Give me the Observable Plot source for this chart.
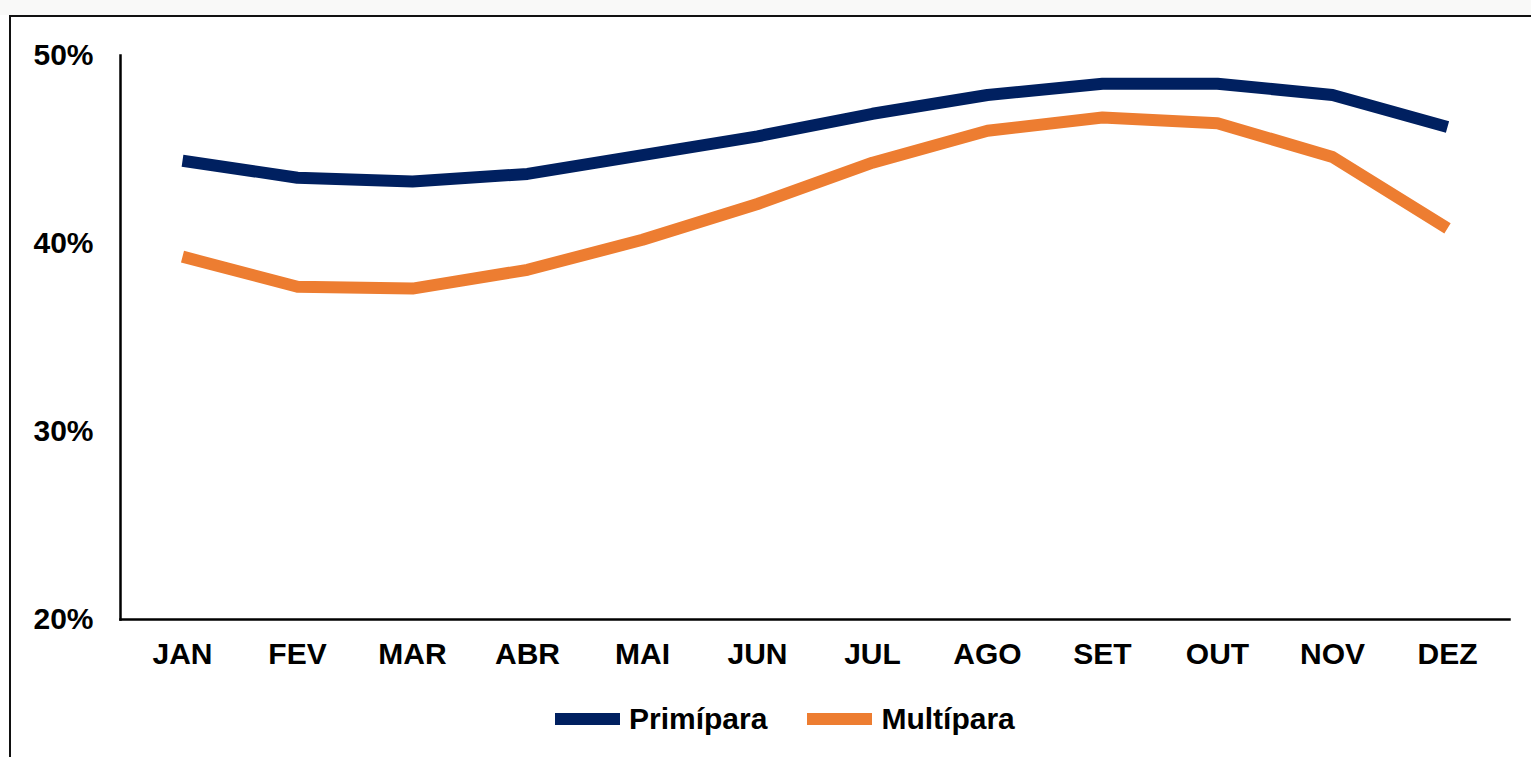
<!DOCTYPE html>
<html>
<head>
<meta charset="utf-8">
<script src="https://cdn.jsdelivr.net/npm/d3@7"></script>
<script src="https://cdn.jsdelivr.net/npm/@observablehq/plot@0.6"></script>
<style>
  html, body { margin: 0; padding: 0; background: #fff; }
  body { width: 1531px; height: 757px; position: relative; overflow: hidden; font-family: "Liberation Sans", Arial, sans-serif; }
  #topband { position: absolute; left: 0; top: 0; width: 1531px; height: 15px; background: #f9f9f8; }
  #frame { position: absolute; left: 9px; top: 15px; width: 1600px; height: 800px; border: 2px solid #111; background: #fff; }
  #chart { position: absolute; left: 0; top: 0; }
  #legend { position: absolute; left: 555px; top: 702px; display: flex; align-items: center; font-weight: bold; font-size: 30px; color: #000; }
  .sw { display: inline-block; width: 65px; height: 12px; margin-right: 9px; }
  .item { display: flex; align-items: center; margin-right: 40px; }
</style>
</head>
<body>
<div id="topband"></div>
<div id="frame"></div>
<div id="chart"></div>
<div id="legend"></div>
<script>
const months = ["JAN","FEV","MAR","ABR","MAI","JUN","JUL","AGO","SET","OUT","NOV","DEZ"];
const primipara = [44.4, 43.5, 43.3, 43.7, 44.7, 45.7, 46.9, 47.9, 48.5, 48.5, 47.9, 46.2];
const multipara = [39.3, 37.7, 37.6, 38.6, 40.2, 42.1, 44.3, 46.0, 46.7, 46.4, 44.6, 40.8];
const seriesNames = ["Primípara", "Multípara"];
const seriesColors = ["#002060", "#ED7D31"];
const yTicks = [20, 30, 40, 50];

const data = [];
months.forEach((m, i) => {
  data.push({month: m, value: primipara[i], series: seriesNames[0]});
  data.push({month: m, value: multipara[i], series: seriesNames[1]});
});

const chart = Plot.plot({
  width: 1531,
  height: 690,
  marginLeft: 120,
  marginRight: 22,
  marginTop: 55,
  marginBottom: 71,
  style: {fontFamily: "'Liberation Sans', Arial, sans-serif", fontWeight: "bold", fontSize: "30px", color: "#000", background: "transparent"},
  x: {type: "point", domain: months, padding: 0.5, label: null},
  y: {domain: [20, 50], label: null},
  color: {domain: seriesNames, range: seriesColors},
  marks: [
    Plot.axisY({ticks: yTicks, tickFormat: d => d + "%", tickSize: 0, tickPadding: 27, label: null, fontSize: 30, fontWeight: "bold"}),
    Plot.axisX({tickSize: 0, tickPadding: 23, label: null, fontSize: 30, fontWeight: "bold"}),
    Plot.frame({anchor: "left", stroke: "#000", strokeWidth: 2.5}),
    Plot.frame({anchor: "bottom", stroke: "#000", strokeWidth: 2.5}),
    Plot.line(data, {x: "month", y: "value", z: "series", stroke: "series", strokeWidth: 12, curve: "linear", strokeLinejoin: "round", strokeLinecap: "butt"})
  ]
});
document.getElementById("chart").appendChild(chart);

const legend = document.getElementById("legend");
seriesNames.forEach((name, i) => {
  const item = document.createElement("span");
  item.className = "item";
  const sw = document.createElement("span");
  sw.className = "sw";
  sw.style.background = seriesColors[i];
  item.appendChild(sw);
  item.appendChild(document.createTextNode(name));
  legend.appendChild(item);
});
</script>
</body>
</html>
